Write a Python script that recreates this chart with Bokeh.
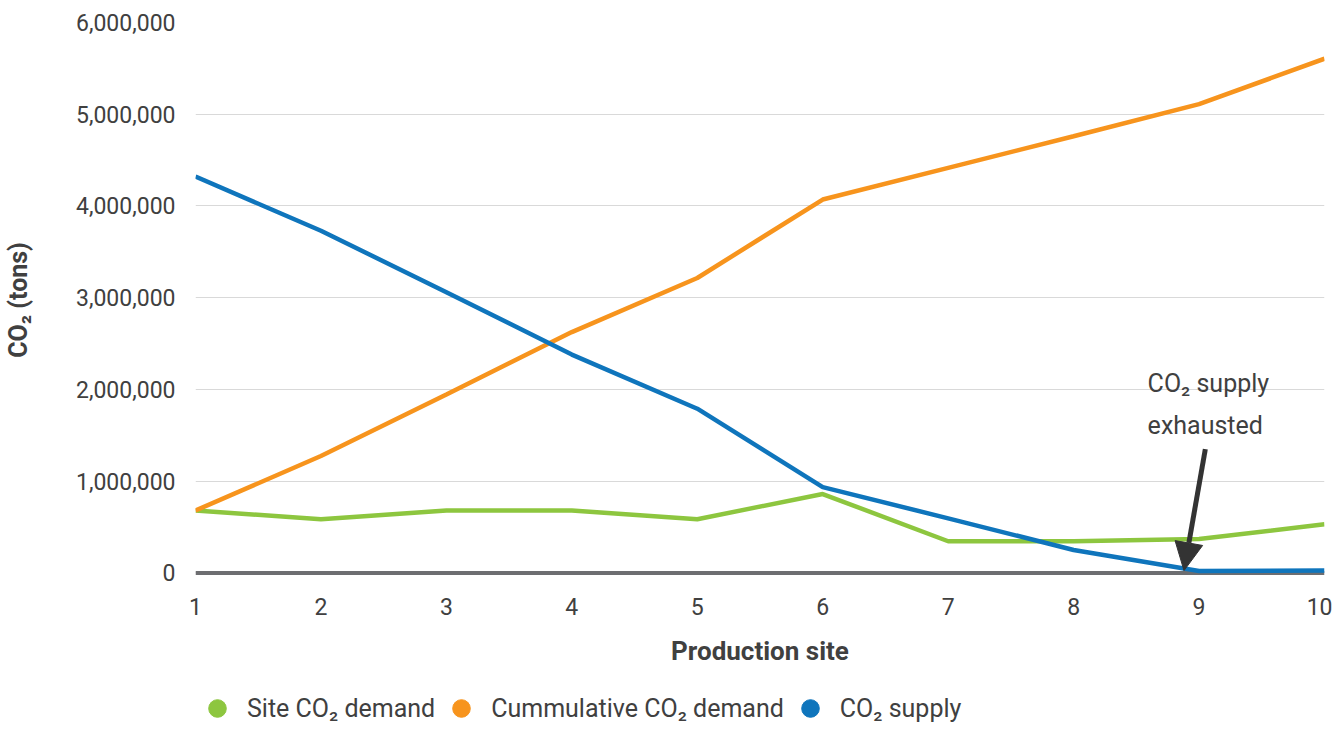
from bokeh.plotting import figure
from bokeh.layouts import column
from bokeh.models import (Range1d, NumeralTickFormatter, FixedTicker, Span, Legend,
                          LegendItem, Label, Arrow, NormalHead)
from bokeh.embed import file_html
from bokeh.resources import INLINE

sites = [1, 2, 3, 4, 5, 6, 7, 8, 9, 10]
site_demand = [680000, 585000, 680000, 680000, 585000, 860000, 345000, 345000, 370000, 530000]
cumulative_demand = [680000, 1275000, 1945000, 2625000, 3215000, 4070000, 4415000, 4760000, 5110000, 5605000]
co2_supply = [4320000, 3730000, 3060000, 2380000, 1790000, 935000, 595000, 250000, 20000, 25000]
y_ticks = [0, 1000000, 2000000, 3000000, 4000000, 5000000, 6000000]

GREEN = "#8dc63f"
ORANGE = "#f7941d"
BLUE = "#0f75bc"
TEXT = "#404040"
FONT = "Roboto"

p = figure(frame_width=1129, frame_height=555, output_backend="svg", toolbar_location=None,
           x_range=Range1d(1, 10), y_range=Range1d(-50000, 6000000),
           min_border_left=191, min_border_right=8, min_border_top=22, min_border_bottom=95)
p.outline_line_color = None
p.background_fill_color = "white"

p.xgrid.visible = False
p.ygrid.grid_line_color = "#d9d9d9"
p.ygrid.grid_line_width = 1

p.yaxis.ticker = FixedTicker(ticks=y_ticks)
p.yaxis.formatter = NumeralTickFormatter(format="0,0")
p.xaxis.ticker = FixedTicker(ticks=sites)
for ax in (p.xaxis, p.yaxis):
    ax.axis_line_color = None
    ax.major_tick_line_color = None
    ax.minor_tick_line_color = None
    ax.major_label_text_font = FONT
    ax.major_label_text_font_size = "23px"
    ax.major_label_text_color = TEXT
    ax.axis_label_text_font = FONT
    ax.axis_label_text_color = TEXT
    ax.axis_label_text_font_style = "bold"
p.yaxis.major_label_standoff = 14
p.xaxis.major_label_standoff = 14
p.yaxis.axis_label = "CO₂ (tons)"
p.yaxis.axis_label_text_font_size = "25px"
p.yaxis.axis_label_standoff = 40
p.xaxis.axis_label = "Production site"
p.xaxis.axis_label_text_font_size = "26px"
p.xaxis.axis_label_standoff = 18

zero = Span(location=0, dimension="width", line_color="#6d6e71", line_width=4, level="underlay")
p.add_layout(zero)

p.line(sites, site_demand, line_color=GREEN, line_width=4.5)
p.line(sites, cumulative_demand, line_color=ORANGE, line_width=4.5)
p.line(sites, co2_supply, line_color=BLUE, line_width=4.5)

ann1 = Label(x=8.59, y=2060000, text="CO₂ supply", text_font=FONT, text_font_size="25px",
             text_color=TEXT, text_baseline="middle", text_align="left")
ann2 = Label(x=8.59, y=1610000, text="exhausted", text_font=FONT, text_font_size="25px",
             text_color=TEXT, text_baseline="middle", text_align="left")
p.add_layout(ann1)
p.add_layout(ann2)
arrow = Arrow(x_start=9.05, y_start=1350000, x_end=8.88, y_end=25000,
              line_color="#333333", line_width=5,
              end=NormalHead(size=28, fill_color="#333333", line_color="#333333"))
p.add_layout(arrow)

# legend strip
nan = float("nan")
p2 = figure(width=1328, height=58, output_backend="svg", toolbar_location=None,
            x_range=Range1d(0, 1), y_range=Range1d(0, 1),
            x_axis_location=None, y_axis_location=None,
            min_border_left=0, min_border_right=0, min_border_top=0, min_border_bottom=0)
p2.outline_line_color = None
p2.grid.visible = False
g1 = p2.scatter([nan], [nan], marker="circle", size=19, fill_color=GREEN, line_color=GREEN)
g2 = p2.scatter([nan], [nan], marker="circle", size=19, fill_color=ORANGE, line_color=ORANGE)
g3 = p2.scatter([nan], [nan], marker="circle", size=19, fill_color=BLUE, line_color=BLUE)
legend = Legend(items=[LegendItem(label="Site CO₂ demand", renderers=[g1], index=0),
                       LegendItem(label="Cummulative CO₂ demand", renderers=[g2], index=0),
                       LegendItem(label="CO₂ supply", renderers=[g3], index=0)],
                orientation="horizontal", location=(0, 0),
                label_text_font=FONT, label_text_font_size="25px", label_text_color=TEXT,
                glyph_width=44, glyph_height=44, label_standoff=8, spacing=4,
                border_line_color=None, background_fill_alpha=0, margin=0, padding=0)
p2.add_layout(legend, "center")

open("out.html", "w").write(file_html(column(p, p2), INLINE))
